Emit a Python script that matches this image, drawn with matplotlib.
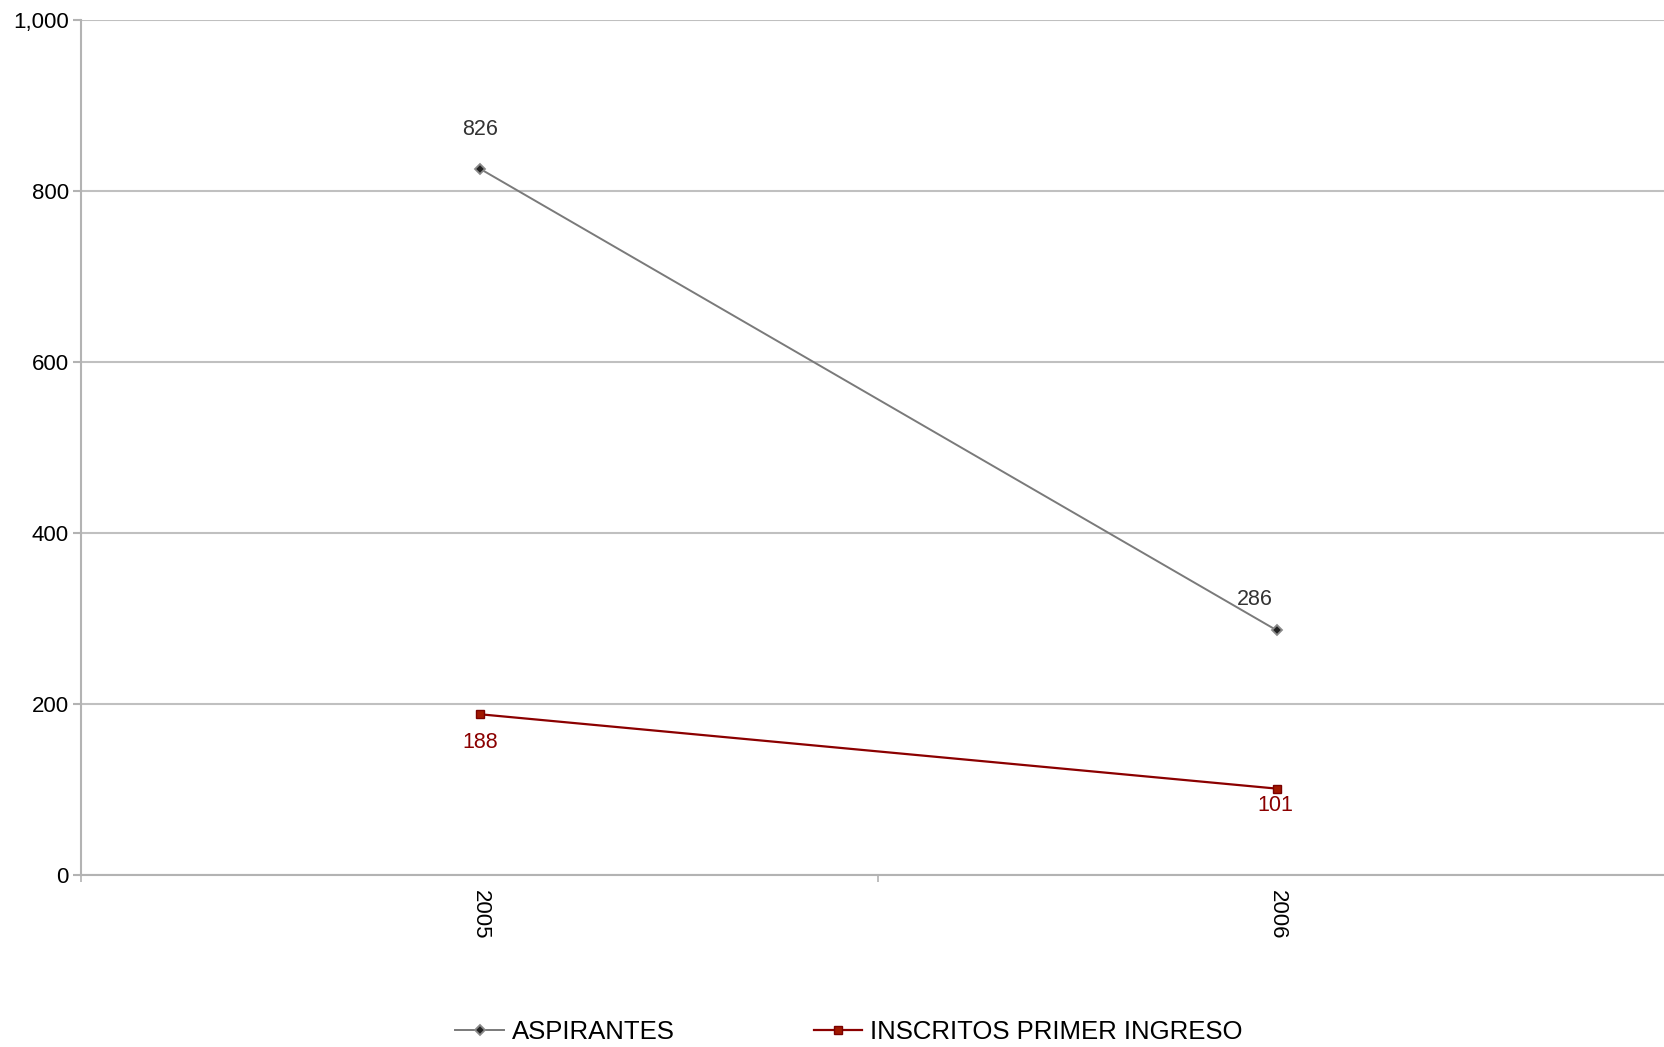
import matplotlib
matplotlib.use("Agg")
import matplotlib.pyplot as plt
from matplotlib.ticker import FuncFormatter

plt.rcParams['font.family'] = ['Liberation Sans', 'DejaVu Sans']

years = ["2005", "2006"]
aspirantes = [826, 286]
inscritos = [188, 101]

# label offsets in points (dx, dy)
asp_offsets = [(0, 28), (-16, 22)]
ins_offsets = [(0, -20), (-1, -12)]

fig = plt.figure(figsize=(16.65, 10.47), dpi=100)
ax = fig.add_axes([81.5 / 1665, 172 / 1047, 1594 / 1665, 855 / 1047])

xs = [i + 0.5 for i in range(len(years))]

ax.plot(xs, aspirantes, color='#7a7a7a', lw=1.4, marker='D', ms=5,
        mfc='#222222', mec='#8a8a8a', mew=1.3, label='ASPIRANTES', zorder=3)
ax.plot(xs, inscritos, color='#8b0000', lw=1.6, marker='s', ms=5.5,
        mfc='#a01800', mec='#7a0000', mew=1, label='INSCRITOS PRIMER INGRESO', zorder=3)

for x, v, off in zip(xs, aspirantes, asp_offsets):
    ax.annotate(str(v), (x, v), xytext=off, textcoords='offset points',
                ha='center', va='center', fontsize=15.5, color='#333333')
for x, v, off in zip(xs, inscritos, ins_offsets):
    ax.annotate(str(v), (x, v), xytext=off, textcoords='offset points',
                ha='center', va='center', fontsize=15.5, color='#8b0000')

ax.set_xlim(0, 2)
ax.set_ylim(0, 1000)
ax.set_yticks(range(0, 1001, 200))
ax.yaxis.set_major_formatter(FuncFormatter(lambda v, p: "{:,}".format(int(v))))
ax.grid(axis='y', color='#c0c0c0', lw=1.5)
ax.set_axisbelow(True)

ax.set_xticks([0, 1, 2])
ax.set_xticklabels([])
ax.set_xticks(xs, minor=True)
ax.set_xticklabels(years, minor=True, rotation=-90, fontsize=16)
ax.tick_params(axis='x', which='minor', length=0, pad=11)
ax.tick_params(axis='x', which='major', length=5, color='#b3b3b3', width=1.2)
ax.tick_params(axis='y', length=6, color='#b3b3b3', width=1.5, labelsize=16, pad=3)

for s in ['top', 'right']:
    ax.spines[s].set_visible(False)
for s in ['left', 'bottom']:
    ax.spines[s].set_color('#b3b3b3')
    ax.spines[s].set_linewidth(1.5)

fig.legend(loc='center', bbox_to_anchor=(849 / 1665, 1 - 1032 / 1047), ncol=2,
           frameon=False, fontsize=18.5, handlelength=1.9, handletextpad=0.3,
           columnspacing=5.4)

fig.savefig("out.png", dpi=100)
